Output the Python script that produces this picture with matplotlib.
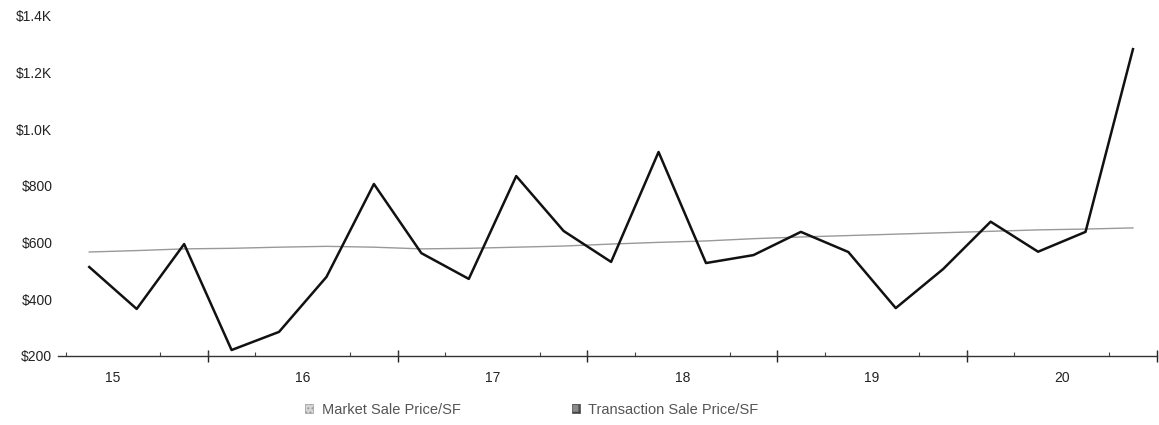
import numpy as np
import matplotlib
matplotlib.use('Agg')
import matplotlib.pyplot as plt
from matplotlib.patches import Patch
from matplotlib.ticker import FuncFormatter

plt.rcParams['font.family'] = ['Liberation Sans', 'DejaVu Sans']

# quarterly figures, Q2 2015 .. Q4 2020
quarters = ['2015Q2', '2015Q3', '2015Q4',
            '2016Q1', '2016Q2', '2016Q3', '2016Q4',
            '2017Q1', '2017Q2', '2017Q3', '2017Q4',
            '2018Q1', '2018Q2', '2018Q3', '2018Q4',
            '2019Q1', '2019Q2', '2019Q3', '2019Q4',
            '2020Q1', '2020Q2', '2020Q3', '2020Q4']
market_price = [567, 572, 578, 580, 584, 587, 584, 578, 580, 584, 588, 595,
                601, 606, 614, 620, 625, 630, 635, 640, 645, 648, 652]
transaction_price = [514, 366, 595, 221, 285, 479, 807, 563, 472, 835, 641, 532,
                     920, 528, 556, 638, 567, 369, 507, 674, 568, 638, 1283]
years = [2015, 2016, 2017, 2018, 2019, 2020]
year_labels = ['15', '16', '17', '18', '19', '20']
legend_labels = ['Market Sale Price/SF', 'Transaction Sale Price/SF']

# place each quarter at its midpoint as a fractional year
x = np.array([int(q[:4]) + (int(q[-1]) - 0.5) / 4 for q in quarters])

fig = plt.figure(figsize=(11.59, 4.25), dpi=100)
ax = fig.add_axes([0.050, 0.1624, 0.948, 0.80])

ax.plot(x, market_price, color='#999999', linewidth=1.0)
ax.plot(x, transaction_price, color='#111111', linewidth=1.8)

ax.set_xlim(2015.21, 2021.0)
ax.set_ylim(200, 1400)

for side in ['top', 'right', 'left']:
    ax.spines[side].set_visible(False)
ax.spines['bottom'].set_color('#333333')
ax.spines['bottom'].set_linewidth(1.0)

def money(v, pos):
    if v >= 1000:
        return '${:.1f}K'.format(v / 1000)
    return '${:.0f}'.format(v)

ax.set_yticks(np.arange(200, 1401, 200))
ax.yaxis.set_major_formatter(FuncFormatter(money))
ax.tick_params(axis='y', length=0, pad=4, labelsize=10, labelcolor='#222222')

# year labels sit in the middle of each year
ax.set_xticks([y + 0.5 for y in years])
ax.set_xticklabels(year_labels)
ax.tick_params(axis='x', which='major', length=0, pad=11, labelsize=10,
               labelcolor='#222222')
quarter_marks = np.arange(2015.25, 2021.0, 0.25)
ax.set_xticks(quarter_marks, minor=True)
ax.tick_params(axis='x', which='minor', length=3, direction='in',
               color='#444444', width=0.8)

# longer ticks on the year boundaries
sec = ax.secondary_xaxis('bottom')
sec.set_xticks([y + 1 for y in years])
sec.set_xticklabels([])
sec.tick_params(length=9, direction='inout', color='#222222', width=1.0)
sec.spines['bottom'].set_visible(False)

handles = [Patch(facecolor='#d8d8d8', edgecolor='#9a9a9a', hatch='....', linewidth=0.5),
           Patch(facecolor='#8a8a8a', edgecolor='#444444', hatch='++', linewidth=0.5)]
fig.legend(handles, legend_labels, loc='lower center', ncol=2, frameon=False,
           bbox_to_anchor=(0.459, -0.012), fontsize=10.5, labelcolor='#555555',
           handlelength=0.55, handleheight=0.55, handletextpad=0.6,
           columnspacing=7.6)

fig.savefig('out.png', dpi=100)
